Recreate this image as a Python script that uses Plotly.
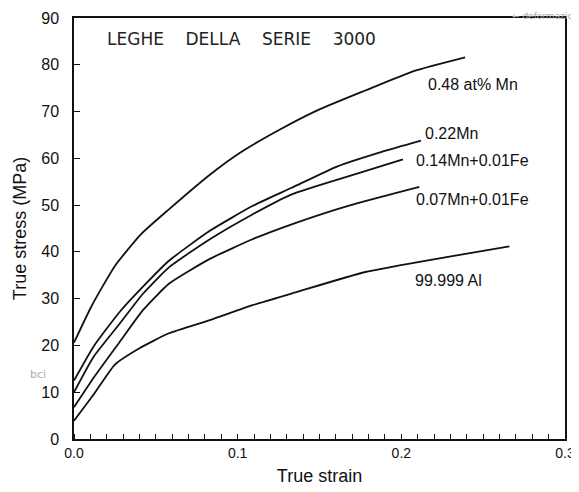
import plotly.graph_objects as go

# ---- data ----
mn048_strain = [0.0, 0.011, 0.025, 0.041, 0.058, 0.083, 0.101, 0.125, 0.149, 0.178, 0.208, 0.239]
mn048_stress = [20.6, 28.6, 37.0, 43.8, 49.1, 56.5, 61.1, 66.0, 70.3, 74.5, 78.7, 81.6]

mn022_strain = [0.0, 0.012, 0.028, 0.042, 0.058, 0.083, 0.109, 0.133, 0.161, 0.188, 0.212]
mn022_stress = [12.5, 19.8, 27.2, 32.5, 38.1, 44.5, 49.8, 53.7, 58.3, 61.4, 63.8]

mn014_strain = [0.0, 0.012, 0.028, 0.042, 0.058, 0.083, 0.109, 0.133, 0.167, 0.201]
mn014_stress = [10.0, 17.6, 24.7, 31.0, 36.7, 42.7, 48.0, 52.3, 56.1, 59.8]

mn007_strain = [0.0, 0.012, 0.028, 0.042, 0.058, 0.083, 0.109, 0.133, 0.167, 0.211]
mn007_stress = [6.8, 13.1, 20.8, 27.5, 33.2, 38.5, 42.7, 45.9, 49.8, 53.9]

al_strain = [0.0, 0.012, 0.025, 0.040, 0.058, 0.083, 0.109, 0.133, 0.178, 0.218, 0.266]
al_stress = [3.9, 9.5, 15.9, 19.4, 22.6, 25.4, 28.6, 31.1, 35.7, 38.3, 41.2]

series_labels = ["0.48 at% Mn", "0.22Mn", "0.14Mn+0.01Fe", "0.07Mn+0.01Fe", "99.999 Al"]
label_x = [0.215, 0.213, 0.208, 0.208, 0.207]
label_y = [75.8, 65.3, 59.5, 51.3, 33.9]

x_ticks = [0.0, 0.1, 0.2, 0.3]
y_ticks = [0, 10, 20, 30, 40, 50, 60, 70, 80, 90]

series = [
    (mn048_strain, mn048_stress),
    (mn022_strain, mn022_stress),
    (mn014_strain, mn014_stress),
    (mn007_strain, mn007_stress),
    (al_strain, al_stress),
]

fig = go.Figure()
for (xs, ys), name in zip(series, series_labels):
    fig.add_trace(go.Scatter(
        x=xs, y=ys, mode="lines", name=name,
        line=dict(color="#111111", width=1.8, shape="spline", smoothing=0.5),
        showlegend=False, hoverinfo="skip",
    ))

font_main = "Liberation Sans, Arial, sans-serif"

for txt, lx, ly in zip(series_labels, label_x, label_y):
    fig.add_annotation(x=lx, y=ly, text=txt, showarrow=False,
                       xanchor="left", yanchor="middle",
                       font=dict(family=font_main, size=16, color="#111111"))

# handwritten notes on the scan
fig.add_annotation(xref="paper", x=0.064, y=85.5, text="LEGHE    DELLA    SERIE    3000",
                   showarrow=False, xanchor="left", yanchor="middle",
                   font=dict(family="DejaVu Sans", size=17, color="#222222"))
fig.add_annotation(xref="paper", yref="paper", x=1.02, y=1.022,
                   text="← deformazio", showarrow=False, xanchor="right", yanchor="top",
                   font=dict(family="DejaVu Sans", size=9, color="#aaaaaa"))
fig.add_annotation(xref="paper", x=-0.073, y=13.8, text="bci", showarrow=False,
                   xanchor="center", yanchor="middle",
                   font=dict(family="DejaVu Sans", size=11, color="#aaaaaa"))

fig.update_xaxes(
    range=[0, 0.3], tickvals=x_ticks, tickformat=".1f", automargin=False,
    ticks="", showline=True, linecolor="#111111", linewidth=1.5, mirror=True,
    showgrid=False, zeroline=False,
    minor=dict(ticks="inside", dtick=0.01, ticklen=5, tickcolor="#111111", showgrid=False),
    tickfont=dict(family=font_main, size=14, color="#111111"),
    title=dict(text="True strain", font=dict(family=font_main, size=18, color="#111111"), standoff=10),
)
fig.update_yaxes(
    range=[0, 90], tickvals=y_ticks, automargin=False,
    ticks="inside", ticklen=6, tickcolor="#111111", ticklabelstandoff=10,
    showline=True, linecolor="#111111", linewidth=1.5, mirror=True,
    showgrid=False, zeroline=False,
    tickfont=dict(family=font_main, size=16, color="#111111"),
    title=dict(text="True stress (MPa)", font=dict(family=font_main, size=18, color="#111111"), standoff=10),
)

# the page body has an 8px default margin, so the figure is sized to fit the window
fig.update_layout(
    width=571, height=484,
    margin=dict(l=66, r=14, t=10, b=53),
    paper_bgcolor="white", plot_bgcolor="white",
)

fig.write_html("out.html")
